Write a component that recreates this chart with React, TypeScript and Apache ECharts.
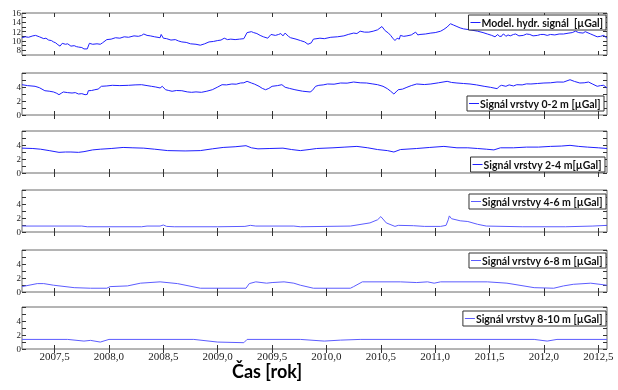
import React, { useEffect, useRef } from "react";
import * as echarts from "echarts";

const xTicks = [2007.5, 2008, 2008.5, 2009, 2009.5, 2010, 2010.5, 2011, 2011.5, 2012, 2012.5];
const seriesNames = [
  "Model. hydr. signál  [µGal]",
  "Signál vrstvy 0-2 m [µGal]",
  "Signál vrstvy 2-4 m[µGal]",
  "Signál vrstvy 4-6 m [µGal]",
  "Signál vrstvy 6-8 m [µGal]",
  "Signál vrstvy 8-10 m [µGal]",
];

const modelSignal = [
  [2007.2, 10.7], [2007.23, 10.9], [2007.26, 10.8], [2007.3, 11.1], [2007.325, 11.2], [2007.36, 10.9],
  [2007.4, 10.5], [2007.42, 10.6], [2007.445, 10.2], [2007.47, 10.1], [2007.49, 9.8], [2007.51, 9.6],
  [2007.53, 9.2], [2007.55, 8.9], [2007.57, 9.5], [2007.6, 9.3], [2007.62, 9.4], [2007.65, 8.9],
  [2007.68, 9.0], [2007.7, 8.8], [2007.72, 8.7], [2007.75, 8.6], [2007.77, 8.3], [2007.8, 8.3],
  [2007.82, 9.5], [2007.85, 9.3], [2007.89, 9.4], [2007.92, 9.3], [2007.94, 9.6], [2007.98, 10.3],
  [2008.02, 10.4], [2008.06, 10.7], [2008.1, 10.6], [2008.14, 10.9], [2008.18, 10.8], [2008.23, 11.1],
  [2008.27, 11.0], [2008.3, 11.2], [2008.32, 11.5], [2008.35, 11.2], [2008.38, 11.1], [2008.42, 10.9],
  [2008.47, 10.7], [2008.48, 11.4], [2008.5, 10.6], [2008.53, 10.5], [2008.57, 10.2], [2008.61, 10.3],
  [2008.64, 10.0], [2008.67, 9.8], [2008.71, 9.7], [2008.75, 9.4], [2008.8, 9.3], [2008.84, 9.1],
  [2008.88, 9.4], [2008.92, 9.8], [2008.96, 9.9], [2009.0, 10.1], [2009.03, 10.2], [2009.06, 10.6],
  [2009.09, 10.3], [2009.12, 10.4], [2009.16, 10.3], [2009.2, 10.4], [2009.24, 10.5], [2009.27, 11.8],
  [2009.31, 12.0], [2009.33, 11.8], [2009.36, 11.6], [2009.39, 11.2], [2009.42, 10.9], [2009.46, 10.6],
  [2009.49, 11.4], [2009.53, 11.2], [2009.56, 11.4], [2009.58, 11.6], [2009.6, 11.1], [2009.62, 11.7],
  [2009.65, 11.0], [2009.67, 10.7], [2009.72, 10.4], [2009.76, 10.1], [2009.8, 9.8], [2009.83, 9.3],
  [2009.86, 9.6], [2009.88, 10.4], [2009.94, 10.6], [2009.98, 10.5], [2010.04, 10.8], [2010.1, 10.9],
  [2010.16, 11.1], [2010.2, 11.4], [2010.25, 11.7], [2010.28, 11.6], [2010.31, 12.1], [2010.35, 11.9],
  [2010.39, 11.9], [2010.43, 12.1], [2010.47, 12.4], [2010.51, 13.1], [2010.54, 12.2], [2010.57, 11.7],
  [2010.59, 11.2], [2010.61, 10.6], [2010.63, 10.1], [2010.65, 10.6], [2010.67, 10.4], [2010.68, 11.2],
  [2010.71, 11.0], [2010.74, 11.1], [2010.78, 11.3], [2010.82, 11.9], [2010.84, 11.3], [2010.86, 11.4],
  [2010.91, 11.5], [2010.96, 11.7], [2011.0, 11.8], [2011.05, 12.1], [2011.08, 12.5], [2011.11, 13.0],
  [2011.14, 13.7], [2011.17, 13.4], [2011.2, 13.1], [2011.23, 12.8], [2011.26, 12.6], [2011.32, 12.4],
  [2011.39, 12.1], [2011.44, 11.8], [2011.48, 11.5], [2011.52, 11.2], [2011.55, 10.9], [2011.575, 11.4],
  [2011.59, 11.0], [2011.61, 11.0], [2011.62, 11.4], [2011.63, 11.5], [2011.65, 11.0], [2011.67, 11.3],
  [2011.69, 11.1], [2011.72, 11.4], [2011.74, 11.5], [2011.77, 11.1], [2011.81, 11.2], [2011.84, 11.5],
  [2011.87, 11.4], [2011.9, 11.1], [2011.94, 11.2], [2011.97, 11.4], [2012.0, 11.4], [2012.03, 11.2],
  [2012.06, 11.4], [2012.1, 11.3], [2012.14, 11.5], [2012.18, 11.5], [2012.23, 11.7], [2012.26, 11.8],
  [2012.29, 12.1], [2012.32, 11.8], [2012.36, 11.7], [2012.38, 12.0], [2012.43, 11.5], [2012.46, 11.2],
  [2012.49, 10.9], [2012.52, 11.0], [2012.55, 11.2], [2012.57, 10.8], [2012.58, 10.6],
];

const layer0to2 = [
  [2007.2, 4.33], [2007.25, 4.2], [2007.32, 4.1], [2007.36, 3.9], [2007.41, 3.47], [2007.45, 3.4],
  [2007.49, 3.29], [2007.52, 3.1], [2007.54, 2.9], [2007.56, 3.1], [2007.58, 3.29], [2007.62, 3.2],
  [2007.66, 3.14], [2007.69, 3.2], [2007.72, 3.0], [2007.75, 3.05], [2007.78, 2.9], [2007.8, 2.95],
  [2007.81, 3.47], [2007.84, 3.5], [2007.87, 3.61], [2007.9, 3.7], [2007.93, 4.1], [2007.98, 4.15],
  [2008.03, 4.24], [2008.1, 4.2], [2008.18, 4.24], [2008.24, 4.3], [2008.3, 4.33], [2008.35, 4.2],
  [2008.39, 4.1], [2008.43, 4.0], [2008.47, 3.86], [2008.49, 4.1], [2008.52, 3.61], [2008.55, 3.5],
  [2008.58, 3.39], [2008.62, 3.5], [2008.67, 3.47], [2008.72, 3.3], [2008.76, 3.24], [2008.8, 3.3],
  [2008.85, 3.24], [2008.9, 3.4], [2008.95, 3.61], [2009.0, 4.0], [2009.04, 4.33], [2009.08, 4.3],
  [2009.13, 4.43], [2009.17, 4.4], [2009.21, 4.57], [2009.24, 4.6], [2009.27, 4.81], [2009.31, 4.57],
  [2009.34, 4.4], [2009.38, 4.1], [2009.41, 3.8], [2009.44, 3.61], [2009.47, 3.8], [2009.5, 4.1],
  [2009.55, 4.2], [2009.59, 4.33], [2009.62, 3.96], [2009.66, 3.8], [2009.71, 3.61], [2009.78, 3.4],
  [2009.85, 3.29], [2009.87, 3.5], [2009.9, 4.1], [2009.93, 4.24], [2009.97, 4.3], [2010.01, 4.43],
  [2010.07, 4.4], [2010.13, 4.57], [2010.19, 4.55], [2010.25, 4.71], [2010.31, 4.6], [2010.37, 4.57],
  [2010.42, 4.45], [2010.47, 4.33], [2010.52, 4.1], [2010.56, 3.76], [2010.59, 3.4], [2010.62, 3.0],
  [2010.64, 3.3], [2010.66, 3.61], [2010.7, 3.7], [2010.74, 3.96], [2010.78, 4.2], [2010.83, 4.43],
  [2010.9, 4.35], [2010.96, 4.43], [2011.03, 4.6], [2011.11, 4.81], [2011.15, 4.65], [2011.2, 4.57],
  [2011.26, 4.5], [2011.32, 4.43], [2011.38, 4.3], [2011.45, 4.1], [2011.51, 3.95], [2011.57, 3.76],
  [2011.59, 4.1], [2011.61, 4.24], [2011.65, 4.1], [2011.68, 4.3], [2011.72, 4.15], [2011.75, 4.33],
  [2011.8, 4.3], [2011.84, 4.45], [2011.88, 4.43], [2011.94, 4.5], [2012.0, 4.57], [2012.06, 4.6],
  [2012.12, 4.71], [2012.18, 4.7], [2012.24, 5.04], [2012.28, 4.8], [2012.33, 4.57], [2012.37, 4.6],
  [2012.41, 4.71], [2012.45, 4.4], [2012.49, 4.1], [2012.52, 4.2], [2012.55, 4.24], [2012.58, 3.86],
];

const layer2to4 = [
  [2007.2, 3.55], [2007.3, 3.5], [2007.37, 3.4], [2007.45, 3.2], [2007.54, 2.95], [2007.6, 3.0],
  [2007.65, 3.0], [2007.72, 2.95], [2007.77, 3.05], [2007.85, 3.3], [2007.92, 3.4], [2008.02, 3.5],
  [2008.13, 3.65], [2008.22, 3.6], [2008.32, 3.55], [2008.42, 3.4], [2008.54, 3.2], [2008.7, 3.15],
  [2008.84, 3.2], [2008.95, 3.45], [2009.05, 3.65], [2009.16, 3.75], [2009.26, 3.9], [2009.31, 3.6],
  [2009.37, 3.45], [2009.48, 3.5], [2009.6, 3.55], [2009.68, 3.35], [2009.76, 3.2], [2009.84, 3.35],
  [2009.91, 3.5], [2010.06, 3.6], [2010.17, 3.7], [2010.28, 3.8], [2010.38, 3.6], [2010.47, 3.35],
  [2010.56, 3.2], [2010.62, 3.0], [2010.68, 3.35], [2010.83, 3.5], [2010.95, 3.65], [2011.08, 3.8],
  [2011.2, 3.6], [2011.3, 3.6], [2011.39, 3.5], [2011.47, 3.4], [2011.54, 3.3], [2011.6, 3.6],
  [2011.72, 3.6], [2011.84, 3.7], [2011.95, 3.7], [2012.06, 3.8], [2012.16, 3.85], [2012.24, 3.95],
  [2012.32, 3.8], [2012.4, 3.7], [2012.5, 3.6], [2012.58, 3.5],
];

const layer4to6 = [
  [2007.2, 0.85], [2007.75, 0.85], [2007.8, 0.75], [2008.3, 0.75], [2008.35, 0.85], [2008.47, 0.85],
  [2008.5, 1.0], [2008.53, 0.8], [2008.6, 0.75], [2009.0, 0.75], [2009.25, 0.8], [2009.3, 0.95],
  [2009.35, 0.85], [2009.7, 0.85], [2009.76, 0.75], [2010.22, 0.85], [2010.4, 1.3], [2010.47, 1.75],
  [2010.5, 2.2], [2010.55, 1.3], [2010.63, 0.8], [2010.66, 0.95], [2010.8, 0.9], [2010.9, 0.8],
  [2011.05, 0.8], [2011.1, 0.95], [2011.12, 1.75], [2011.13, 2.3], [2011.15, 1.9], [2011.23, 1.6],
  [2011.3, 1.5], [2011.39, 1.1], [2011.47, 0.85], [2011.8, 0.75], [2012.2, 0.75], [2012.45, 0.85],
  [2012.58, 0.95],
];

const layer6to8 = [
  [2007.2, 0.77], [2007.34, 1.2], [2007.4, 1.2], [2007.49, 0.97], [2007.68, 0.62], [2007.83, 0.54],
  [2007.98, 0.54], [2008.01, 0.77], [2008.17, 0.87], [2008.29, 1.26], [2008.47, 1.45], [2008.63, 1.2],
  [2008.84, 0.54], [2009.26, 0.54], [2009.29, 1.2], [2009.35, 1.45], [2009.45, 1.26], [2009.5, 1.35],
  [2009.61, 1.45], [2009.7, 1.26], [2009.76, 0.97], [2009.88, 0.54], [2010.22, 0.54], [2010.25, 0.77],
  [2010.33, 1.45], [2010.68, 1.45], [2010.83, 1.35], [2010.93, 1.45], [2010.99, 1.26], [2011.05, 1.45],
  [2011.48, 1.45], [2011.66, 1.26], [2011.91, 0.62], [2012.09, 0.54], [2012.18, 0.87], [2012.27, 1.1],
  [2012.43, 1.26], [2012.58, 0.97],
];

const layer8to10 = [
  [2007.2, 1.37], [2007.62, 1.37], [2007.77, 1.13], [2007.83, 1.23], [2007.92, 0.99], [2008.0, 1.37],
  [2008.78, 1.37], [2009.0, 0.99], [2009.24, 0.9], [2009.27, 1.37], [2009.76, 1.37], [2009.98, 1.13],
  [2010.13, 1.27], [2010.31, 1.37], [2011.91, 1.37], [2012.03, 1.13], [2012.12, 1.37], [2012.58, 1.37],
];

const allSeries = [modelSignal, layer0to2, layer2to4, layer4to6, layer6to8, layer8to10];

export default function App() {
  const ref = useRef<HTMLDivElement>(null);
  useEffect(() => {
    if (!ref.current) return;
    const chart = echarts.init(ref.current, null, { renderer: "svg" });
    const gridTops = [13, 73, 131, 190, 250, 307];
    const legendTops = [15, 96, 157, 194, 253, 311];
    const legendRights = [12, 14, 13, 12, 12, 12];
    const colors = ["#1f1fff", "#1f1fff", "#1f1fff", "#5c5cff", "#5c5cff", "#5c5cff"];
    const grids: any[] = [];
    const xAxes: any[] = [];
    const yAxes: any[] = [];
    const series: any[] = [];
    const legends: any[] = [];
    const tickStyle = { color: "#333", width: 1 };
    allSeries.forEach((data, i) => {
      grids.push({ left: 22, right: 11, top: gridTops[i], height: 42, show: true, borderColor: "#6a6a6a", borderWidth: 1 });
      const ymin = i === 0 ? 7 : 0;
      const ymax = i === 0 ? 16 : 6;
      ["bottom", "top"].forEach((pos, k) => {
        xAxes.push({
          gridIndex: i, type: "value", position: pos, min: 2007.2, max: 2012.58,
          axisLine: { show: false }, splitLine: { show: false },
          axisTick: { show: true, inside: true, length: 4, customValues: xTicks, lineStyle: tickStyle },
          axisLabel: {
            show: k === 0 && i === 5, customValues: xTicks, margin: 1,
            fontFamily: "Liberation Serif", fontSize: 11, color: "#222",
            formatter: (v: number) => v.toFixed(1).replace(".", ","),
          },
        });
      });
      ["left", "right"].forEach((pos, k) => {
        yAxes.push({
          gridIndex: i, type: "value", position: pos, min: ymin, max: ymax, interval: 1,
          axisLine: { show: false }, splitLine: { show: false },
          axisTick: { show: true, inside: true, length: 4, lineStyle: tickStyle },
          axisLabel: {
            show: k === 0, margin: 1, fontFamily: "Liberation Serif", fontSize: 9, lineHeight: 9, color: "#222",
            formatter: (v: number) => (v % 2 === 0 && (i === 0 || v < 6) ? String(v) : ""),
          },
        });
      });
      series.push({
        name: seriesNames[i], type: "line", xAxisIndex: 2 * i, yAxisIndex: 2 * i,
        data, showSymbol: false, symbol: "none", color: colors[i],
        lineStyle: { width: 1, color: colors[i] },
      });
      legends.push({
        data: [seriesNames[i]], right: legendRights[i], top: legendTops[i],
        borderColor: "#333", borderWidth: 1, padding: [2, 3, 2, 2], backgroundColor: "#fff",
        icon: "rect", itemWidth: 10, itemHeight: 1, selectedMode: false,
        textStyle: { fontFamily: "Lato", fontWeight: "bold", fontSize: 10.5, color: "#111", padding: [0, 0, 0, -4] },
      });
    });
    chart.setOption({
      animation: false,
      grid: grids, xAxis: xAxes, yAxis: yAxes, series, legend: legends,
      graphic: [{
        type: "text", left: 232, top: 362,
        style: { text: "Čas [rok]", fontFamily: "Lato", fontWeight: "bold", fontSize: 18, fill: "#000" },
      }],
    });
    return () => chart.dispose();
  }, []);
  return <div ref={ref} style={{ position: "fixed", left: 0, top: 0, width: 618, height: 390 }} />;
}
